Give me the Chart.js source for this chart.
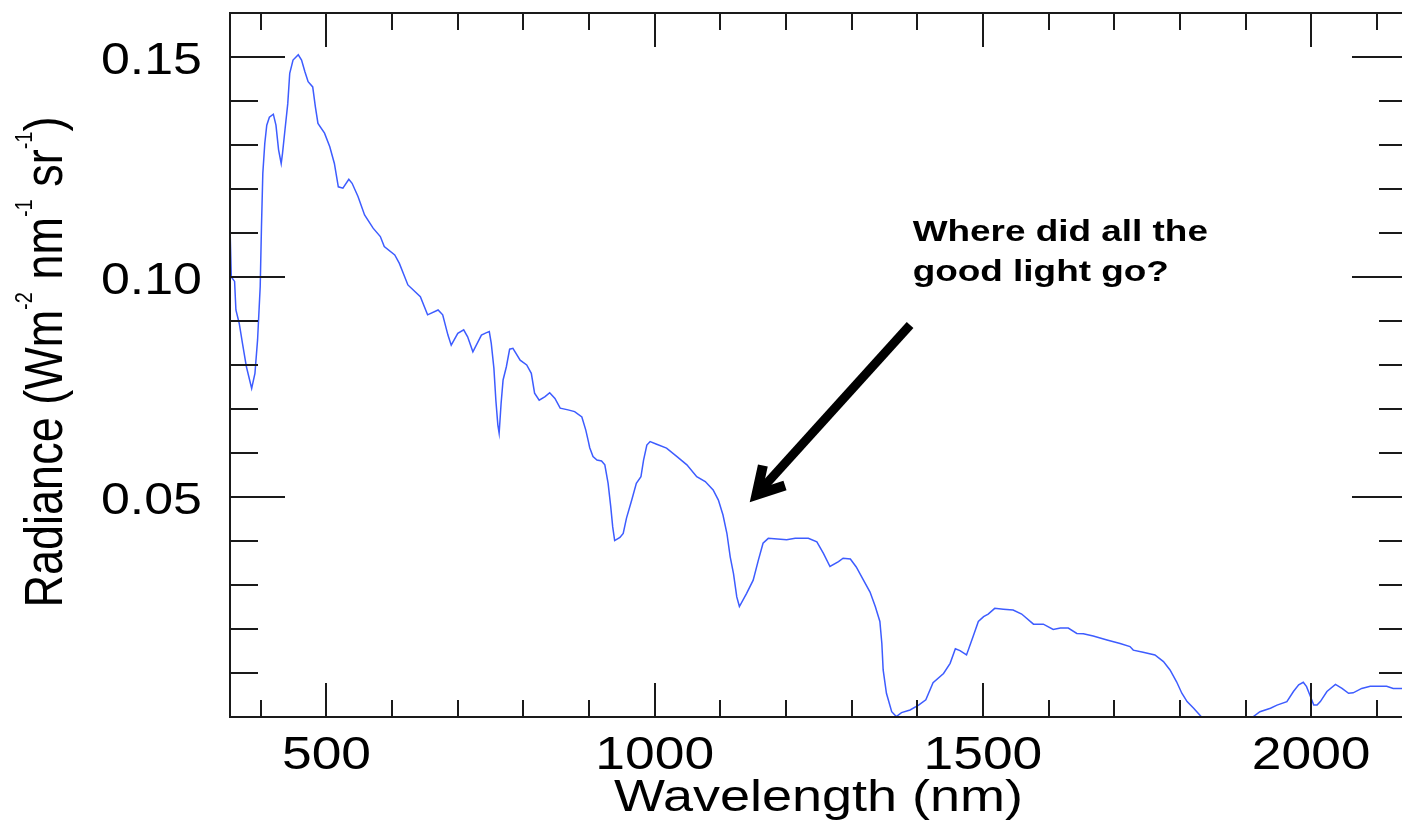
<!DOCTYPE html>
<html>
<head>
<meta charset="utf-8">
<script src="https://cdn.jsdelivr.net/npm/chart.js@4.4.0/dist/chart.umd.min.js"></script>
<style>
  html, body { margin:0; padding:0; background:#fff; overflow:hidden; }
  #wrap { width:1410px; height:828px; }
</style>
</head>
<body>
<div id="wrap"><canvas id="c" width="1410" height="828"></canvas></div>
<script>
// spectrum (nm, W m-2 nm-1 sr-1)
const wavelength = [
  353, 355, 360, 362, 367, 372, 378, 386, 391, 395, 399, 401, 403, 406, 409, 413, 419, 423, 427, 431,
  433, 437, 441, 444, 449, 457, 462, 467, 472, 479, 483, 487, 497, 505, 512, 518, 525, 534, 539, 548,
  558, 571, 582, 588, 604, 611, 624, 643, 654, 670, 677, 685, 690, 700, 709, 715, 723, 736, 743, 748,
  751, 755, 758, 761, 763, 766, 769, 774, 779, 784, 795, 805, 812, 817, 824, 833, 840, 848, 856, 868,
  878, 889, 895, 899, 901, 906, 912, 919, 924, 929, 933, 936, 939, 947, 952, 957, 965, 972, 979, 983,
  988, 993, 1003, 1018, 1033, 1049, 1064, 1077, 1089, 1097, 1104, 1110, 1115, 1120, 1125, 1129, 1140, 1150, 1158, 1165,
  1173, 1201, 1214, 1234, 1247, 1257, 1267, 1280, 1287, 1298, 1307, 1318, 1328, 1336, 1343, 1346, 1348, 1353, 1361, 1368,
  1376, 1389, 1402, 1413, 1424, 1440, 1450, 1458, 1465, 1475, 1485, 1493, 1501, 1508, 1518, 1531, 1546, 1559, 1577, 1592,
  1607, 1618, 1630, 1643, 1653, 1668, 1689, 1709, 1724, 1729, 1744, 1762, 1775, 1785, 1795, 1803, 1811, 1821, 1833, 1850,
  1870, 1885, 1893, 1902, 1911, 1922, 1938, 1948, 1963, 1973, 1981, 1988, 1993, 1998, 2004, 2009, 2014, 2024, 2037, 2047,
  2057, 2064, 2077, 2090, 2115, 2125, 2146
];
const radiance = [
  0.1114, 0.1000, 0.0990, 0.0925, 0.0895, 0.0849, 0.0796, 0.0747, 0.0781, 0.0857, 0.0978, 0.1118, 0.1236, 0.1304, 0.1345, 0.1363, 0.1370, 0.1345, 0.1289, 0.1258,
  0.1281, 0.1338, 0.1394, 0.1463, 0.1493, 0.1505, 0.1493, 0.1467, 0.1444, 0.1432, 0.1387, 0.1349, 0.1327, 0.1296, 0.1258, 0.1205, 0.1202, 0.1222, 0.1213, 0.1183,
  0.1141, 0.1111, 0.1092, 0.1069, 0.1050, 0.1031, 0.0982, 0.0955, 0.0914, 0.0925, 0.0914, 0.0868, 0.0845, 0.0872, 0.0880, 0.0864, 0.0830, 0.0868, 0.0873, 0.0876,
  0.0849, 0.0793, 0.0720, 0.0664, 0.0645, 0.0713, 0.0766, 0.0796, 0.0836, 0.0838, 0.0811, 0.0800, 0.0781, 0.0736, 0.0720, 0.0728, 0.0737, 0.0724, 0.0702, 0.0698,
  0.0694, 0.0682, 0.0652, 0.0626, 0.0612, 0.0592, 0.0584, 0.0582, 0.0573, 0.0531, 0.0478, 0.0432, 0.0401, 0.0408, 0.0417, 0.0452, 0.0493, 0.0531, 0.0546, 0.0584,
  0.0618, 0.0626, 0.0620, 0.0611, 0.0593, 0.0573, 0.0546, 0.0535, 0.0516, 0.0493, 0.0459, 0.0417, 0.0364, 0.0326, 0.0273, 0.0251, 0.0281, 0.0311, 0.0357, 0.0395,
  0.0406, 0.0403, 0.0406, 0.0406, 0.0398, 0.0372, 0.0342, 0.0353, 0.0361, 0.0359, 0.0341, 0.0311, 0.0284, 0.0251, 0.0217, 0.0167, 0.0107, 0.0054, 0.0012, 0.0001,
  0.0010, 0.0016, 0.0027, 0.0039, 0.0078, 0.0099, 0.0122, 0.0155, 0.0151, 0.0141, 0.0183, 0.0217, 0.0228, 0.0234, 0.0247, 0.0245, 0.0243, 0.0234, 0.0211, 0.0211,
  0.0199, 0.0202, 0.0202, 0.0190, 0.0189, 0.0184, 0.0175, 0.0167, 0.0160, 0.0152, 0.0147, 0.0141, 0.0126, 0.0107, 0.0080, 0.0054, 0.0035, 0.0020, 0.0000, -0.0020,
  -0.0025, 0.0000, 0.0000, -0.0006, 0.0000, 0.0012, 0.0020, 0.0027, 0.0035, 0.0058, 0.0073, 0.0079, 0.0069, 0.0050, 0.0027, 0.0027, 0.0035, 0.0058, 0.0074, 0.0065,
  0.0054, 0.0055, 0.0065, 0.0070, 0.0070, 0.0065, 0.0065
];

const xRange = [353, 2146];
const yRange = [0, 0.16];
const xMajor = [500, 1000, 1500, 2000];
const xTickLabels = ['500', '1000', '1500', '2000'];
const xMinor = [400, 600, 700, 800, 900, 1100, 1200, 1300, 1400, 1600, 1700, 1800, 1900, 2100];
const yMajor = [0.05, 0.10, 0.15];
const yTickLabels = ['0.05', '0.10', '0.15'];
const yMinor = [0.01, 0.02, 0.03, 0.04, 0.06, 0.07, 0.08, 0.09, 0.11, 0.12, 0.13, 0.14];

const xTitle = 'Wavelength (nm)';
// y title pieces: [text, superscript?]
const yTitle = [['Radiance (Wm', false], ['-2', true], [' nm', false], ['-1', true], [' sr', false], ['-1', true], [')', false]];

const noteLines = ['Where did all the', 'good light go?'];
const noteAt = [1393, 0.1082];     // data coords of first line's left/baseline
const arrowFrom = [1389, 0.0891];
const arrowTo = [1155, 0.0505];

const FONT = '"Liberation Sans", Arial, Helvetica, sans-serif';

function wideText(ctx, text, x, y, sx, align) {
  ctx.save();
  ctx.translate(x, y);
  ctx.scale(sx, 1);
  ctx.textAlign = align;
  ctx.fillText(text, 0, 0);
  ctx.restore();
}

// IDL-style box with inward ticks on all four sides, plus labels and the note
const idlFrame = {
  id: 'idlFrame',
  afterDatasetsDraw(chart) {
    const {ctx, chartArea: a, scales: {x, y}} = chart;
    ctx.save();
    ctx.strokeStyle = '#1a1a1a';
    ctx.lineWidth = 2;
    ctx.strokeRect(a.left, a.top, a.right - a.left, a.bottom - a.top);

    ctx.beginPath();
    const xt = (v, len) => {
      const px = Math.round(x.getPixelForValue(v));
      ctx.moveTo(px, a.bottom); ctx.lineTo(px, a.bottom - len);
      ctx.moveTo(px, a.top);    ctx.lineTo(px, a.top + len);
    };
    const yt = (v, len) => {
      const py = Math.round(y.getPixelForValue(v));
      ctx.moveTo(a.left, py);  ctx.lineTo(a.left + len, py);
      ctx.moveTo(a.right, py); ctx.lineTo(a.right - len, py);
    };
    xMajor.forEach(v => xt(v, 34));
    xMinor.forEach(v => xt(v, 17));
    yMajor.forEach(v => yt(v, 55));
    yMinor.forEach(v => yt(v, 28));
    ctx.stroke();

    ctx.fillStyle = '#000';
    ctx.textBaseline = 'alphabetic';
    ctx.font = '46px ' + FONT;
    xMajor.forEach((v, i) => wideText(ctx, xTickLabels[i], x.getPixelForValue(v), a.bottom + 52, 1.16, 'center'));
    ctx.font = '44px ' + FONT;
    yMajor.forEach((v, i) => wideText(ctx, yTickLabels[i], a.left - 28, y.getPixelForValue(v) + 17, 1.18, 'right'));

    ctx.font = '45px ' + FONT;
    wideText(ctx, xTitle, (a.left + a.right) / 2, a.bottom + 94, 1.2, 'center');

    // rotated y title with superscripts
    const big = '45px ' + FONT, small = '20px ' + FONT;
    let total = 0;
    yTitle.forEach(([t, sup]) => { ctx.font = sup ? small : big; total += ctx.measureText(t).width; });
    ctx.save();
    ctx.translate(62, (a.top + a.bottom) / 2 - 3);
    ctx.rotate(-Math.PI / 2);
    ctx.scale(1, 1.2);
    ctx.textAlign = 'left';
    let cx = -total / 2;
    yTitle.forEach(([t, sup]) => {
      ctx.font = sup ? small : big;
      ctx.fillText(t, cx, sup ? -25 : 0);
      cx += ctx.measureText(t).width;
    });
    ctx.restore();

    // annotation
    ctx.font = 'bold 30px ' + FONT;
    const nx = x.getPixelForValue(noteAt[0]), ny = y.getPixelForValue(noteAt[1]);
    noteLines.forEach((t, i) => wideText(ctx, t, nx, ny + i * 40, 1.23, 'left'));

    const fx = x.getPixelForValue(arrowFrom[0]), fy = y.getPixelForValue(arrowFrom[1]);
    const tx = x.getPixelForValue(arrowTo[0]), ty = y.getPixelForValue(arrowTo[1]);
    const ang = Math.atan2(fy - ty, fx - tx);
    ctx.strokeStyle = '#000';
    ctx.lineWidth = 9;
    ctx.lineCap = 'butt';
    ctx.beginPath();
    ctx.moveTo(fx, fy);
    ctx.lineTo(tx + 6 * Math.cos(ang), ty + 6 * Math.sin(ang));
    ctx.stroke();
    ctx.lineWidth = 10;
    ctx.lineJoin = 'miter';
    ctx.beginPath();
    ctx.moveTo(tx + 30 * Math.cos(ang - 0.52), ty + 30 * Math.sin(ang - 0.52));
    ctx.lineTo(tx, ty);
    ctx.lineTo(tx + 30 * Math.cos(ang + 0.52), ty + 30 * Math.sin(ang + 0.52));
    ctx.stroke();
    ctx.restore();
  }
};

new Chart(document.getElementById('c'), {
  type: 'line',
  data: {
    datasets: [{
      data: wavelength.map((w, i) => ({x: w, y: radiance[i]})),
      borderColor: '#3d5cff',
      borderWidth: 1.5,
      pointRadius: 0,
      tension: 0,
      fill: false
    }]
  },
  options: {
    responsive: false,
    animation: false,
    devicePixelRatio: 1,
    events: [],
    layout: {padding: {left: 230, right: 3, top: 13, bottom: 111}},
    plugins: {legend: {display: false}, tooltip: {enabled: false}},
    scales: {
      x: {type: 'linear', min: xRange[0], max: xRange[1], display: false},
      y: {min: yRange[0], max: yRange[1], display: false}
    }
  },
  plugins: [idlFrame]
});
</script>
</body>
</html>
